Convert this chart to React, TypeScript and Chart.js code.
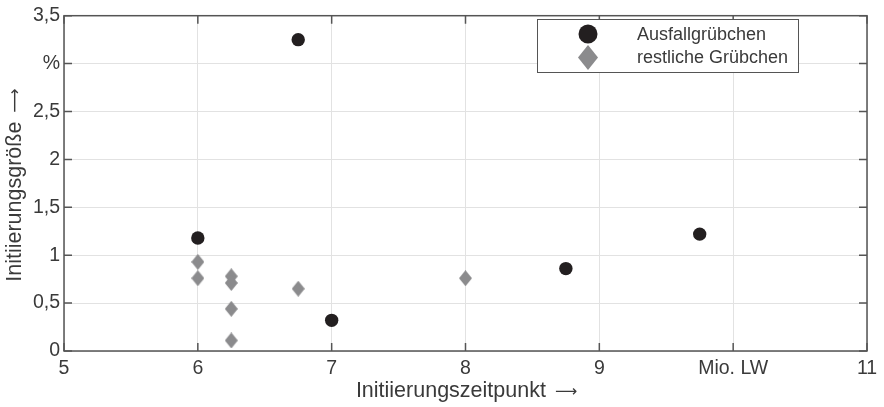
import { useEffect, useRef } from "react";
import { Chart, registerables } from "chart.js";

Chart.register(...registerables);

// Failed pits (Ausfallgrübchen)
const failedX = [6, 6.75, 7, 8.75, 9.75];
const failedY = [1.18, 3.25, 0.32, 0.86, 1.22];

// Remaining pits (restliche Grübchen)
const otherX = [6, 6, 6.25, 6.25, 6.25, 6.25, 6.75, 8];
const otherY = [0.93, 0.76, 0.78, 0.71, 0.44, 0.11, 0.65, 0.76];

const xTickValues = [5, 6, 7, 8, 9, 10, 11];
const xTickLabels = ["5", "6", "7", "8", "9", "Mio. LW", "11"];
const yTickValues = [0, 0.5, 1, 1.5, 2, 2.5, 3, 3.5];
const yTickLabels = ["0", "0,5", "1", "1,5", "2", "2,5", "%", "3,5"];

const seriesLabels = ["Ausfallgrübchen", "restliche Grübchen"];
const xTitle = "Initiierungszeitpunkt";
const yTitle = "Initiierungsgröße";
const ARROW = "⟶";

const FONT = "'Liberation Sans', Arial, Helvetica, sans-serif";
const ARROW_FONT = "'DejaVu Sans', sans-serif";
const DARK = "#231f20";
const GREY = "#8b8b8d";
const FRAME = "#555555";
const TEXT = "#3a3a3a";

function diamondPath(ctx: CanvasRenderingContext2D, cx: number, cy: number, w: number, h: number) {
  ctx.beginPath();
  ctx.moveTo(cx, cy - h / 2);
  ctx.lineTo(cx + w / 2, cy);
  ctx.lineTo(cx, cy + h / 2);
  ctx.lineTo(cx - w / 2, cy);
  ctx.closePath();
}

function makeDiamond(w: number, h: number, color: string) {
  const c = document.createElement("canvas");
  c.width = w;
  c.height = h;
  const g = c.getContext("2d")!;
  g.fillStyle = color;
  diamondPath(g, w / 2, h / 2, w, h);
  g.fill();
  return c;
}

// Draws "title →" centred at the origin of the current transform
function drawTitle(ctx: CanvasRenderingContext2D, text: string, size: number, arrowSize: number) {
  ctx.textBaseline = "middle";
  ctx.textAlign = "left";
  ctx.font = `${size}px ${FONT}`;
  const tw = ctx.measureText(text + " ").width + 3;
  ctx.font = `${arrowSize}px ${ARROW_FONT}`;
  const aw = ctx.measureText(ARROW).width;
  const start = -(tw + aw) / 2;
  ctx.font = `${size}px ${FONT}`;
  ctx.fillText(text, start, 0);
  ctx.font = `${arrowSize}px ${ARROW_FONT}`;
  ctx.fillText(ARROW, start + tw, 1);
}

const framePlugin = {
  id: "frame",
  beforeDatasetsDraw(chart: any) {
    const { ctx, chartArea, scales } = chart;
    const { left, right, top, bottom } = chartArea;
    const tick = 8;
    ctx.save();
    ctx.strokeStyle = FRAME;
    ctx.lineWidth = 1.5;
    ctx.strokeRect(left, top, right - left, bottom - top);
    ctx.beginPath();
    xTickValues.forEach((v) => {
      const px = scales.x.getPixelForValue(v);
      ctx.moveTo(px, bottom);
      ctx.lineTo(px, bottom - tick);
      ctx.moveTo(px, top);
      ctx.lineTo(px, top + tick);
    });
    yTickValues.forEach((v) => {
      const py = scales.y.getPixelForValue(v);
      ctx.moveTo(left, py);
      ctx.lineTo(left + tick, py);
      ctx.moveTo(right, py);
      ctx.lineTo(right - tick, py);
    });
    ctx.stroke();
    ctx.restore();
  },
  afterDraw(chart: any) {
    const { ctx, chartArea } = chart;
    const { left, right } = chartArea;
    ctx.save();
    ctx.fillStyle = TEXT;
    ctx.translate((left + right) / 2 + 1, 391);
    drawTitle(ctx, xTitle, 21.5, 15.5);
    ctx.restore();

    ctx.save();
    ctx.fillStyle = TEXT;
    ctx.translate(15, 185);
    ctx.rotate(-Math.PI / 2);
    drawTitle(ctx, yTitle, 21.5, 17);
    ctx.restore();

    // legend box
    ctx.save();
    const bx = 537, by = 19, bw = 261, bh = 53;
    ctx.fillStyle = "#ffffff";
    ctx.fillRect(bx, by, bw, bh);
    ctx.strokeStyle = FRAME;
    ctx.lineWidth = 1;
    ctx.strokeRect(bx + 0.5, by + 0.5, bw, bh);
    ctx.fillStyle = DARK;
    ctx.beginPath();
    ctx.arc(588, 34, 9.5, 0, Math.PI * 2);
    ctx.fill();
    ctx.fillStyle = GREY;
    diamondPath(ctx, 588, 57.5, 20, 25);
    ctx.fill();
    ctx.fillStyle = TEXT;
    ctx.font = `18px ${FONT}`;
    ctx.textAlign = "left";
    ctx.textBaseline = "middle";
    ctx.fillText(seriesLabels[0], 637, 35);
    ctx.fillText(seriesLabels[1], 637, 58.5);
    ctx.restore();
  },
};

export default function App() {
  const ref = useRef<HTMLCanvasElement | null>(null);

  useEffect(() => {
    const canvas = ref.current;
    if (!canvas) return;
    const diamond = makeDiamond(13, 16, GREY);
    const chart = new Chart(canvas, {
      type: "scatter",
      data: {
        datasets: [
          {
            label: seriesLabels[1],
            data: otherX.map((x, i) => ({ x, y: otherY[i] })),
            pointStyle: diamond as any,
            pointRadius: 8,
            backgroundColor: GREY,
            borderWidth: 0,
          },
          {
            label: seriesLabels[0],
            data: failedX.map((x, i) => ({ x, y: failedY[i] })),
            pointStyle: "circle",
            pointRadius: 6.7,
            backgroundColor: DARK,
            borderColor: DARK,
            borderWidth: 0,
          },
        ],
      },
      options: {
        responsive: false,
        animation: false,
        layout: { padding: { top: 12, right: 17, left: 0, bottom: 0 } },
        plugins: { legend: { display: false }, tooltip: { enabled: false } },
        scales: {
          x: {
            type: "linear",
            min: 5,
            max: 11,
            afterBuildTicks: (s: any) => {
              s.ticks = xTickValues.map((value) => ({ value }));
            },
            afterFit: (s: any) => {
              s.height = 56;
            },
            ticks: {
              callback: (v: any) => xTickLabels[xTickValues.indexOf(Number(v))] ?? "",
              font: { family: FONT, size: 19.5 },
              color: TEXT,
              padding: 6,
              maxRotation: 0,
              autoSkip: false,
            },
            grid: { color: "#e2e2e2", lineWidth: 1, drawTicks: false },
            border: { display: false },
          },
          y: {
            type: "linear",
            min: 0,
            max: 3.5,
            afterBuildTicks: (s: any) => {
              s.ticks = yTickValues.map((value) => ({ value }));
            },
            afterFit: (s: any) => {
              s.width = 64;
            },
            ticks: {
              callback: (v: any) => yTickLabels[yTickValues.indexOf(Number(v))] ?? "",
              font: { family: FONT, size: 19.5 },
              color: TEXT,
              padding: 4,
              autoSkip: false,
            },
            grid: { color: "#e2e2e2", lineWidth: 1, drawTicks: false },
            border: { display: false },
          },
        },
      },
      plugins: [framePlugin],
    });
    return () => chart.destroy();
  }, []);

  return (
    <div style={{ position: "fixed", left: 0, top: 0, width: 884, height: 407, background: "#fff" }}>
      <canvas ref={ref} width={884} height={407} />
    </div>
  );
}
